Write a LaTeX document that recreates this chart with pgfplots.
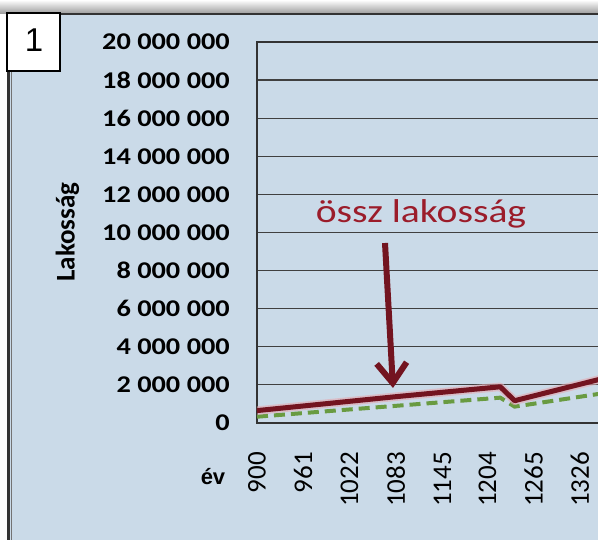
\documentclass[border=0pt]{standalone}
\usepackage{fontspec}
\setmainfont{Carlito}
\newfontfamily\tickfont[FakeStretch=1.18]{Carlito}
\newfontfamily\labfont[FakeStretch=1.2]{Carlito}
\newfontfamily\arialfont{Liberation Sans}
\usepackage{pgfplots}
\pgfplotsset{compat=1.18}
\usetikzlibrary{arrows.meta}
\definecolor{bgblue}{RGB}{202,218,232}
\definecolor{maroon}{RGB}{115,20,32}
\definecolor{halo}{RGB}{228,168,176}
\definecolor{dgreen}{RGB}{105,155,65}
\definecolor{txtred}{RGB}{155,28,42}
\begin{document}
\begin{tikzpicture}[x=1pt,y=1pt]
\useasboundingbox (0,0) rectangle (598,540);
\clip (0,0) rectangle (598,540);
\fill[white] (0,0) rectangle (598,540);
\shade[top color=white, bottom color=black!40] (0,526) rectangle (598,540);
\fill[bgblue] (7,-10) rectangle (620,526);
\draw[black!80, line width=2.5pt] (8.5,-10) -- (8.5,526) -- (620,526);
\draw[black!55, line width=0.8pt] (11.8,-10) -- (11.8,525);
\begin{axis}[at={(257pt,117pt)}, anchor=south west, scale only axis,
  width=366pt, height=381pt,
  xmin=900, xmax=1383, ymin=0, ymax=20000000,
  axis line style={black!80, line width=1.6pt},
  ymajorgrids, major grid style={black!75, line width=1.2pt},
  major tick length=0pt,
  xtick={900,961,1022,1083,1145,1204,1265,1326},
  xticklabels={900,961,1022,1083,1145,1204,1265,1326},
  ytick={0,2000000,4000000,6000000,8000000,10000000,12000000,14000000,16000000,18000000,20000000},
  yticklabels={{0},{2 000 000},{4 000 000},{6 000 000},{8 000 000},{10 000 000},{12 000 000},{14 000 000},{16 000 000},{18 000 000},{20 000 000}},
  scaled y ticks=false,
  xticklabel style={yshift=-29pt, rotate=90, anchor=east, inner sep=0pt, font=\fontsize{27}{30}\selectfont},
  yticklabel style={anchor=east, inner sep=0pt, xshift=-27pt, font=\tickfont\bfseries\fontsize{24}{28}\selectfont},
]
\addplot[dgreen, line width=4pt, dash pattern=on 11pt off 6pt] coordinates {(900,330000) (1221,1330000) (1240,860000) (1360,1580000)};
\addplot[halo, line width=8.5pt, opacity=0.6, line join=round] coordinates {(900,650000) (1083,1380000) (1221,1900000) (1240,1170000) (1360,2370000)};
\addplot[maroon, line width=5pt, line join=round] coordinates {(900,650000) (1083,1380000) (1221,1900000) (1240,1170000) (1360,2370000)};
\end{axis}
\draw[black, line width=1.3pt, fill=white] (7,469) rectangle (60,527);
\node at (34,500) {\arialfont\fontsize{33}{36}\selectfont 1};
\node[rotate=90] at (67.5,308) {\fontsize{27}{30}\selectfont\bfseries Lakosság};
\node at (213,63.5) {\arialfont\bfseries\fontsize{22}{24}\selectfont év};
\node[txtred] at (421,326) {\labfont\fontsize{33}{36}\selectfont össz lakosság};
\draw[maroon, line width=6pt, -{Straight Barb[length=20pt, width=30pt, line width=6pt]}] (385,297) -- (393,152);
\end{tikzpicture}
\end{document}
